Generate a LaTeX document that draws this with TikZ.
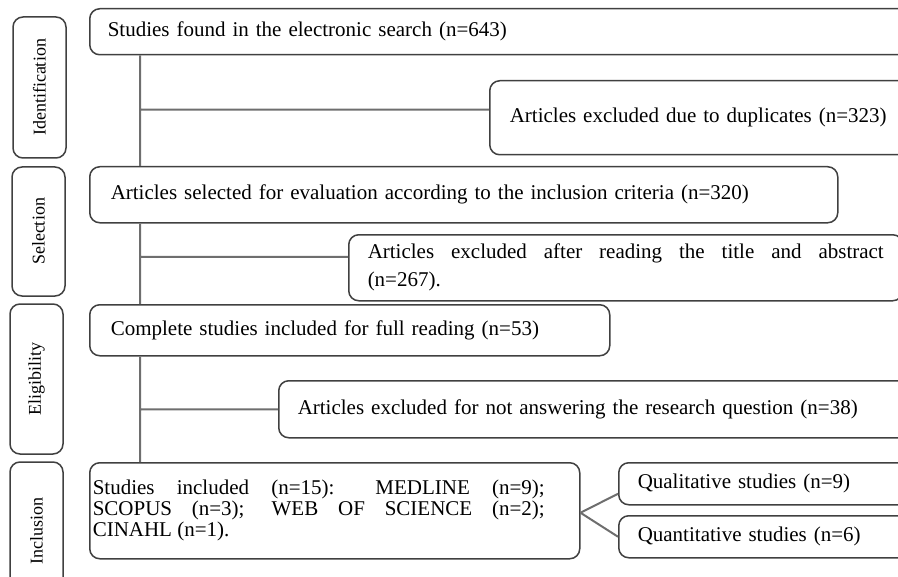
\documentclass[tikz,border=0pt]{standalone}
\usepackage{fontspec}
\setmainfont{Liberation Serif}
\definecolor{boxgray}{HTML}{404040}
\definecolor{linegray}{HTML}{6E6E6E}
\begin{document}
\begin{tikzpicture}[x=0.5pt, y=-0.5pt,
    main box/.style={draw=boxgray, line width=0.75pt, rounded corners=5pt, anchor=north west, inner xsep=9pt, inner ysep=0pt, align=left, font=\fontsize{10.5}{13}\selectfont},
    phase box/.style={draw=boxgray, line width=0.75pt, rounded corners=5pt, rotate=90, inner sep=0pt, minimum height=26.5pt, font=\fontsize{9}{9}\selectfont},
    link/.style={draw=linegray, line width=1pt}]
            \clip (0,0) rectangle (898,577);

            % phases
              \node[phase box, minimum width=70.5pt] (ident) at (39.5,87.5) {Identification};
              \node[phase box, minimum width=64.5pt] (selec) at (38.5,231.5) {Selection};
              \node[phase box, minimum width=75pt] (elig) at (36.5,379) {Eligibility};
              \node[phase box, minimum width=69pt] (inclu) at (36.5,531) {Inclusion};

            % flow
              \node[main box, text width=397.5pt, minimum height=23pt] (found) at (89,8) {Studies found in the electronic search (n=643)};
              \node[main box, inner xsep=10pt, text width=195.5pt, minimum height=37pt] (dup) at (489,80) {Articles excluded due to duplicates (n=323)};
              \node[main box, inner xsep=10.5pt, text width=353pt, minimum height=28pt] (sel) at (89,166) {Articles selected for evaluation according to the inclusion criteria (n=320)};
              \node[main box, inner xsep=9.5pt, text width=258pt, align=justify, minimum height=33pt, font=\fontsize{10.5}{14}\selectfont] (abs) at (348,234) {Articles excluded after reading the title and abstract \linebreak (n=267).};
              \node[main box, inner xsep=10.5pt, text width=239pt, minimum height=25.5pt] (full) at (89,304) {Complete studies included for full reading (n=53)};
              \node[main box, inner xsep=9.5pt, text width=302pt, minimum height=28.5pt] (quest) at (278,380) {Articles excluded for not answering the research question (n=38)};
              \node[main box, inner xsep=1.5pt, text width=242pt, align=justify, minimum height=48pt] (incl) at (89,462) {\parbox{226pt}{\fontsize{10.5}{10.5}\selectfont Studies included (n=15): MEDLINE (n=9); \linebreak SCOPUS (n=3); WEB OF SCIENCE (n=2); \linebreak CINAHL (n=1).}};
              \node[main box, inner xsep=9.5pt, text width=132pt, minimum height=21pt] (qual) at (618,462) {Qualitative studies (n=9)};
              \node[main box, inner xsep=9.5pt, text width=132pt, minimum height=21pt] (quant) at (618,515) {Quantitative studies (n=6)};

              \coordinate (spine) at (140,0);
              \path[link]
                (spine |- found.south) -- (spine |- sel.north)
                (spine |- sel.south) -- (spine |- full.north)
                (spine |- full.south) -- (spine |- incl.north)
                ([yshift=4pt]spine |- dup.west) -- ([yshift=4pt]dup.west)
                ([yshift=5.5pt]spine |- abs.west) -- ([yshift=5.5pt]abs.west)
                (spine |- quest.west) -- (quest.west)
                ([yshift=-1pt]incl.east) -- ([yshift=-5pt]qual.west)
                ([yshift=-1pt]incl.east) -- (quant.west);

\end{tikzpicture}
\end{document}
